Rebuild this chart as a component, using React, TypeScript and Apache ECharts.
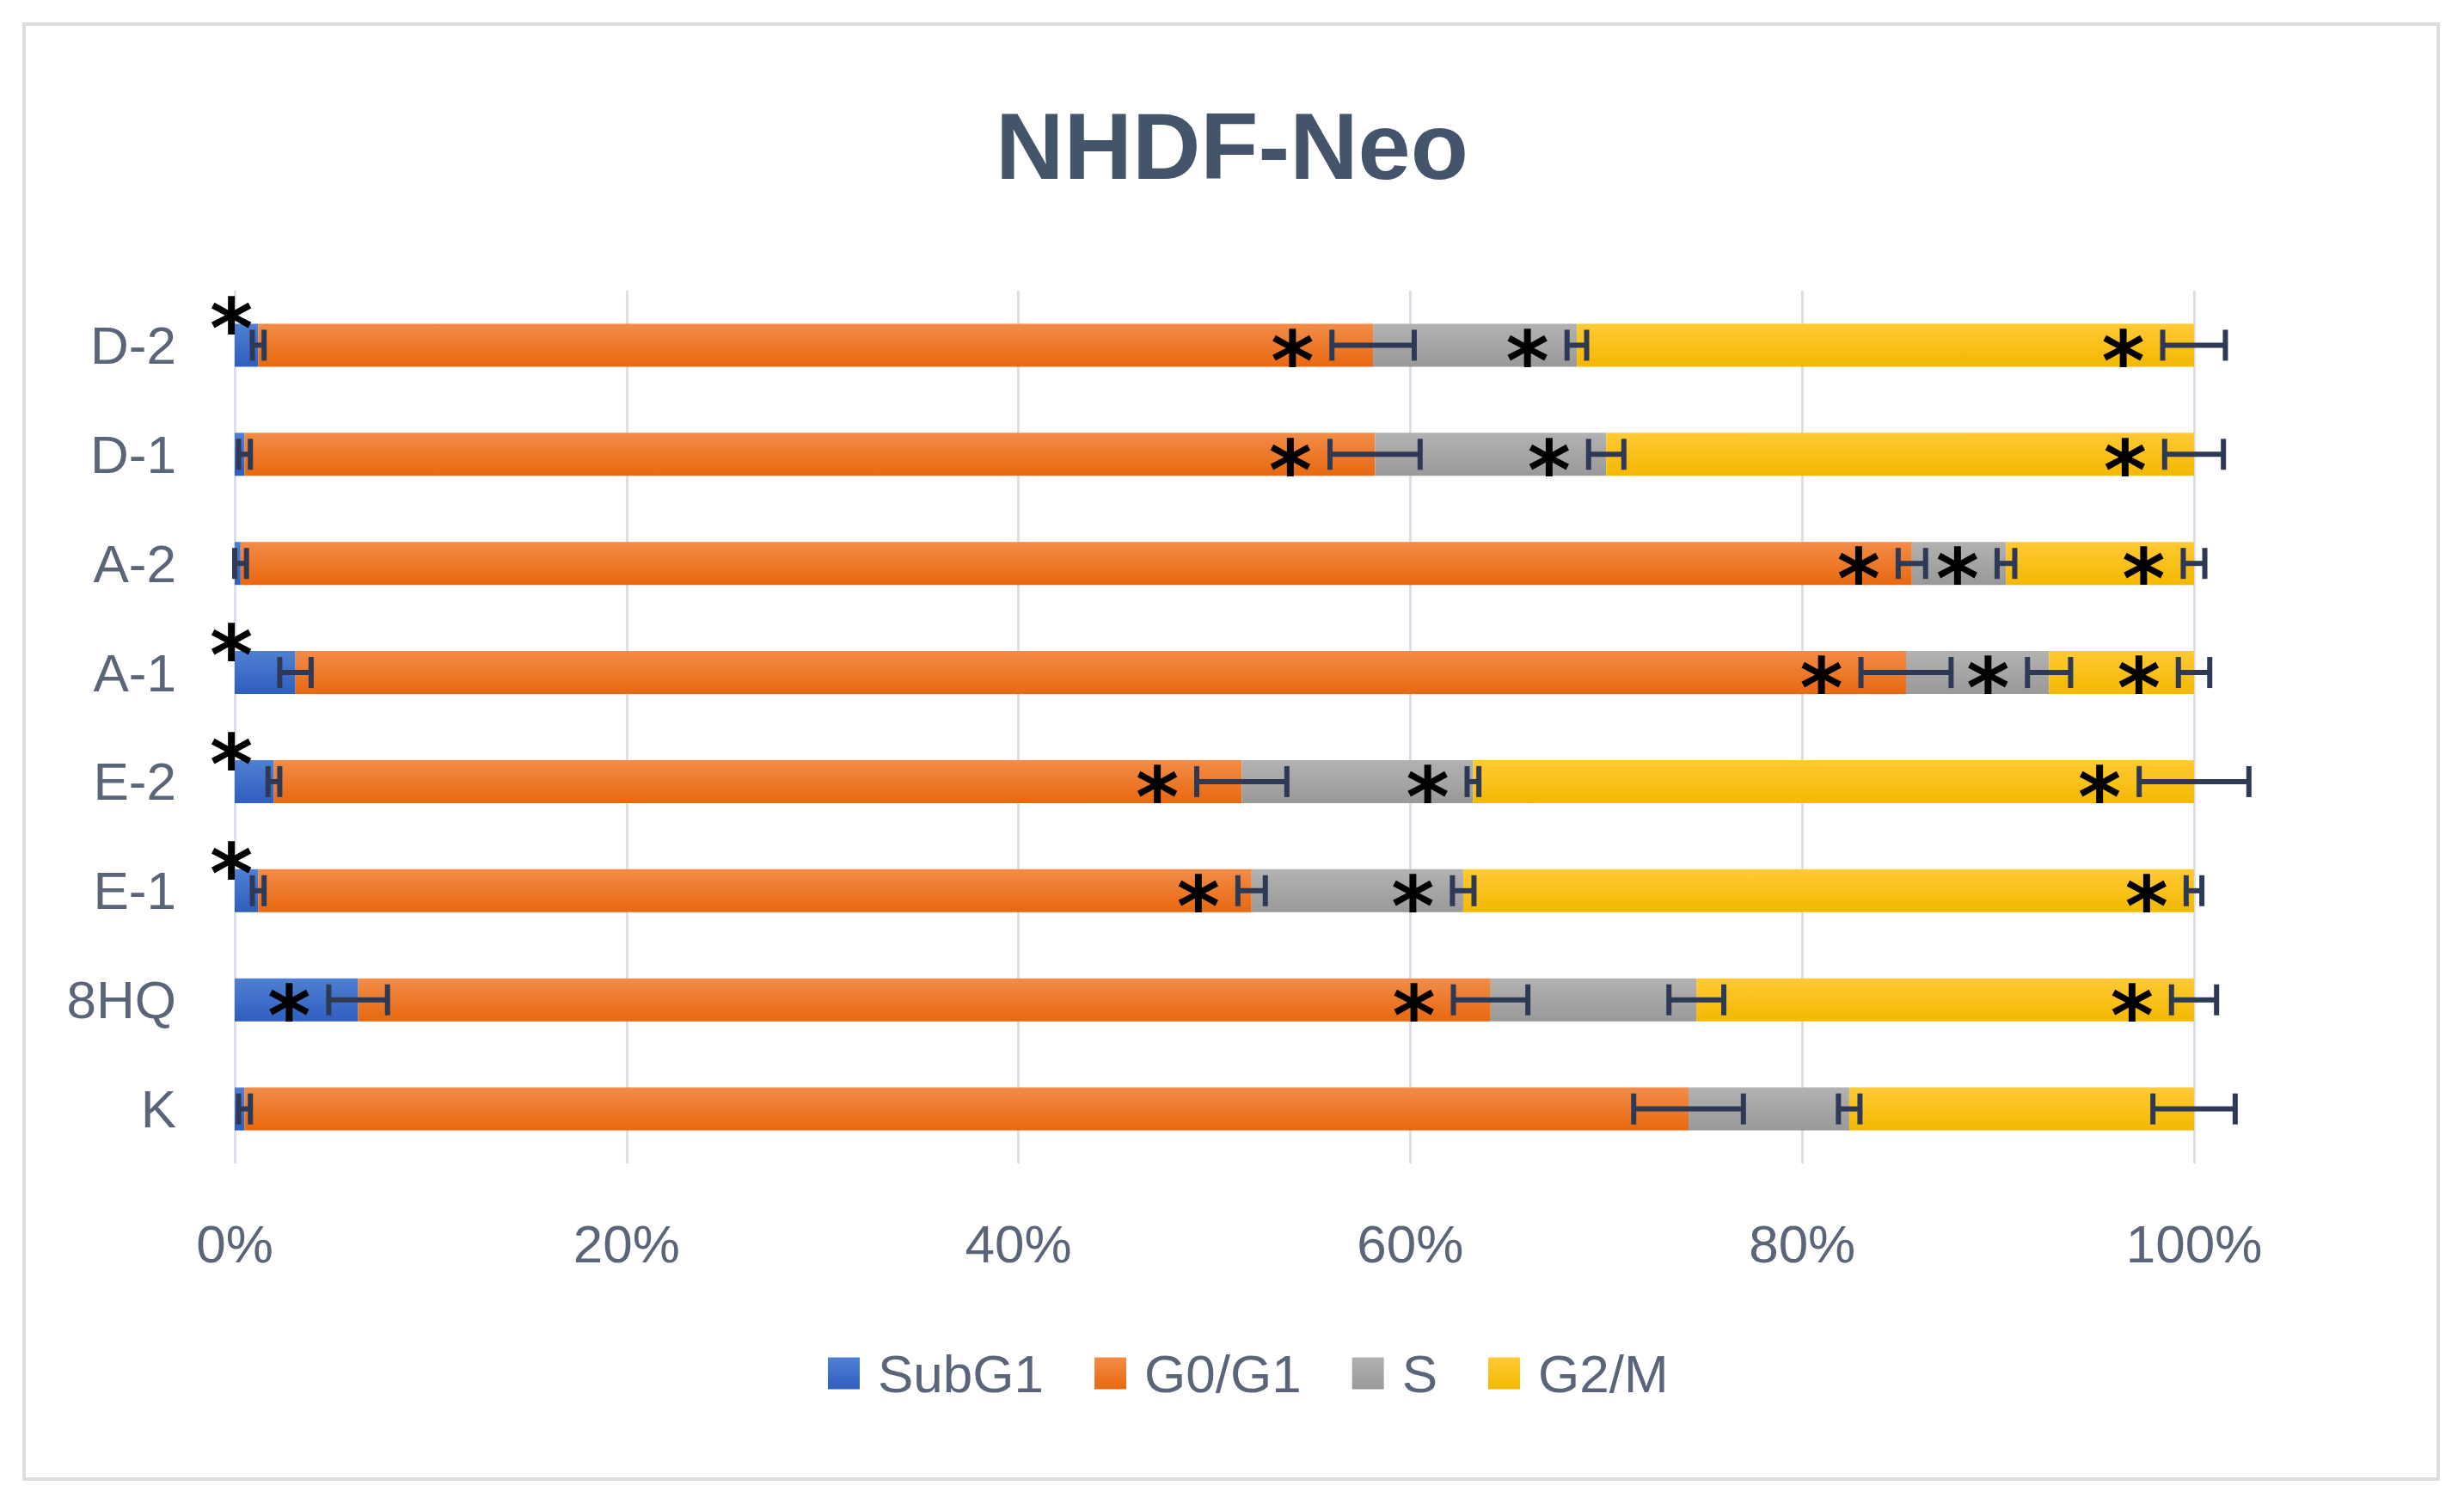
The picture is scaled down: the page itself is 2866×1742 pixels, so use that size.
import React, { useEffect, useRef } from "react";
import * as echarts from "echarts";

const categories = ["K", "8HQ", "E-1", "E-2", "A-1", "A-2", "D-1", "D-2"];
const seriesNames = ["SubG1", "G0/G1", "S", "G2/M"];

const subG1 = [0.5, 6.3, 1.2, 2.0, 3.1, 0.3, 0.5, 1.2];
const g0g1 = [73.7, 57.8, 50.7, 49.4, 82.2, 85.3, 57.7, 56.9];
const sPhase = [8.2, 10.5, 10.8, 11.8, 7.3, 4.8, 11.8, 10.4];
const g2m = [17.6, 25.4, 37.3, 36.8, 7.4, 9.6, 30.0, 31.5];

const errSubG1 = [0.3, 1.5, 0.3, 0.3, 0.8, 0.3, 0.3, 0.3];
const errG0G1 = [2.8, 1.9, 0.7, 2.3, 2.3, 0.7, 2.3, 2.1];
const errS = [0.55, 1.4, 0.55, 0.3, 1.1, 0.45, 0.9, 0.5];
const errG2M = [2.1, 1.15, 0.4, 2.8, 0.8, 0.55, 1.5, 1.6];

// significance marks (1 = "*")
const sigSubG1 = [0, 1, 1, 1, 1, 0, 0, 1];
const sigG0G1 = [0, 1, 1, 1, 1, 1, 1, 1];
const sigS = [0, 0, 1, 1, 1, 1, 1, 1];
const sigG2M = [0, 1, 1, 1, 1, 1, 1, 1];

const xTicks = [0, 20, 40, 60, 80, 100];

const FONT = "'Liberation Sans', Arial, sans-serif";
const LABEL_COLOR = "#5A6579";

function grad(top: string, bottom: string) {
  return new echarts.graphic.LinearGradient(0, 0, 0, 1, [
    { offset: 0, color: top },
    { offset: 1, color: bottom },
  ]);
}

const barColors = [
  grad("#4F80D2", "#2F5EC0"),
  grad("#F28C48", "#E8680F"),
  grad("#B2B2B2", "#999999"),
  grad("#FFCA35", "#F3B800"),
];

export default function App() {
  const ref = useRef<HTMLDivElement>(null);

  useEffect(() => {
    document.body.style.margin = "0";
    if (!ref.current) return;
    const chart = echarts.init(ref.current, null, { renderer: "svg" });

    const values = [subG1, g0g1, sPhase, g2m];
    const errs = [errSubG1, errG0G1, errS, errG2M];
    const sigs = [sigSubG1, sigG0G1, sigS, sigG2M];

    const cum: number[][] = values.map(() => []);
    categories.forEach((_, i) => {
      let acc = 0;
      values.forEach((v, k) => {
        acc += v[i];
        cum[k][i] = acc;
      });
    });

    const barSeries = values.map((v, k) => ({
      name: seriesNames[k],
      type: "bar",
      stack: "total",
      barWidth: 50,
      data: v,
      itemStyle: { color: barColors[k] },
      z: 2,
    }));

    const errSeries = values.map((_, k) => ({
      name: seriesNames[k] + " err",
      type: "custom",
      z: 5,
      silent: true,
      data: categories.map((_, i) => [cum[k][i], i, errs[k][i], sigs[k][i]]),
      renderItem: (params: any, api: any) => {
        const x = api.value(0);
        const cat = api.value(1);
        const e = api.value(2);
        const sig = api.value(3);
        const c = api.coord([x, cat]);
        const lo = api.coord([x - e, cat]);
        const hi = api.coord([x + e, cat]);
        const zero = api.coord([0, cat]);
        const capH = 18;
        const lineStyle = { stroke: "#2E3A55", lineWidth: 6 };
        const children: any[] = [
          { type: "line", shape: { x1: lo[0], y1: c[1], x2: hi[0], y2: c[1] }, style: lineStyle },
          { type: "line", shape: { x1: lo[0], y1: c[1] - capH, x2: lo[0], y2: c[1] + capH }, style: lineStyle },
          { type: "line", shape: { x1: hi[0], y1: c[1] - capH, x2: hi[0], y2: c[1] + capH }, style: lineStyle },
        ];
        if (sig) {
          let ax = lo[0] - 46;
          let ay = c[1];
          if (ax < zero[0] + 20) {
            ax = zero[0] - 4;
            ay = c[1] - 38;
          }
          const fs = 96;
          children.push({
            type: "text",
            style: {
              text: "*",
              x: ax,
              y: ay + 0.2 * fs,
              fontSize: fs,
              fontWeight: "bold",
              fontFamily: "'DejaVu Sans', sans-serif",
              fill: "#000000",
              align: "center",
              verticalAlign: "middle",
            },
          });
        }
        return { type: "group", children };
      },
    }));

    chart.setOption({
      animation: false,
      backgroundColor: "#ffffff",
      title: {
        text: "NHDF-Neo",
        left: "center",
        top: 109,
        textStyle: {
          fontFamily: FONT,
          fontWeight: "bold",
          fontSize: 110,
          color: "#44546A",
        },
      },
      legend: {
        data: seriesNames,
        left: 963,
        top: 1566,
        padding: 0,
        itemWidth: 37,
        itemHeight: 37,
        itemGap: 59,
        icon: "rect",
        textStyle: {
          fontFamily: FONT,
          fontSize: 62,
          color: LABEL_COLOR,
          padding: [0, 0, 0, 16],
        },
      },
      grid: { left: 273, right: 314, top: 338, bottom: 389, containLabel: false },
      xAxis: {
        type: "value",
        min: xTicks[0],
        max: xTicks[xTicks.length - 1],
        interval: 20,
        axisLine: { show: false },
        axisTick: { show: false },
        splitLine: { show: true, lineStyle: { color: "#D8E0EA", width: 3 } },
        axisLabel: {
          formatter: "{value}%",
          fontFamily: FONT,
          fontSize: 62,
          color: LABEL_COLOR,
          margin: 62,
        },
      },
      yAxis: {
        type: "category",
        data: categories,
        axisLine: { show: false },
        axisTick: { show: false },
        splitLine: { show: false },
        axisLabel: {
          fontFamily: FONT,
          fontSize: 62,
          color: LABEL_COLOR,
          margin: 68,
        },
      },
      graphic: [
        {
          type: "rect",
          shape: { x: 28, y: 28, width: 2808, height: 1692 },
          style: { fill: "none", stroke: "#D9DCE1", lineWidth: 4 },
          silent: true,
        },
      ],
      series: [...barSeries, ...errSeries],
    });

    return () => chart.dispose();
  }, []);

  return <div ref={ref} style={{ width: 2866, height: 1742 }} />;
}
